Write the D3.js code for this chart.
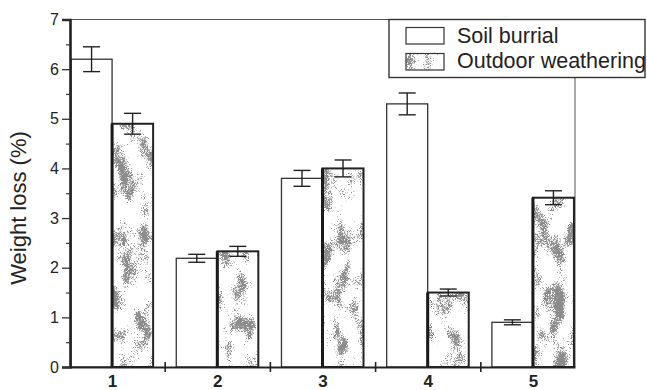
<!DOCTYPE html>
<html>
<head>
<meta charset="utf-8">
<script src="https://cdn.jsdelivr.net/npm/d3@7"></script>
<style>
  html, body { margin: 0; padding: 0; background: #fff; }
  svg { display: block; font-family: "Liberation Sans", Arial, sans-serif; }
</style>
</head>
<body>
<svg id="chart" width="647" height="390"></svg>
<script>
// Weight loss of the five samples under two degradation conditions
const categories = [1, 2, 3, 4, 5];
const seriesNames = ["Soil burrial", "Outdoor weathering"];
const soilBurial = [6.20, 2.19, 3.80, 5.30, 0.90];
const soilBurialErr = [0.25, 0.08, 0.16, 0.22, 0.05];
const outdoorWeathering = [4.90, 2.33, 4.00, 1.50, 3.41];
const outdoorWeatheringErr = [0.21, 0.10, 0.17, 0.07, 0.14];
const yTicks = [0, 1, 2, 3, 4, 5, 6, 7];
const yMinorTicks = [0.5, 1.5, 2.5, 3.5, 4.5, 5.5, 6.5];
const xBoundaryTicks = [1.5, 2.5, 3.5, 4.5];
const yTitle = "Weight loss (%)";

const svg = d3.select("#chart");
const plotLeft = 70, plotRight = 575, plotTop = 19.5, plotBottom = 367;

const x = d3.scaleLinear().domain([0.6, 5.4]).range([plotLeft, plotRight]);
const y = d3.scaleLinear().domain([0, 7]).range([plotBottom, plotTop]);
const barW = x(1.39) - x(1);

// grainy grey fill used for the outdoor-weathering bars
const defs = svg.append("defs");
function grainFilter(id, seed) {
  const f = defs.append("filter").attr("id", id)
    .attr("x", 0).attr("y", 0).attr("width", 1).attr("height", 1)
    .attr("color-interpolation-filters", "sRGB");
  f.append("feTurbulence").attr("type", "fractalNoise").attr("baseFrequency", 1.3)
    .attr("numOctaves", 1).attr("seed", seed).attr("result", "fineRaw");
  f.append("feColorMatrix").attr("in", "fineRaw").attr("type", "matrix")
    .attr("values", "1 0 0 0 0  1 0 0 0 0  1 0 0 0 0  0 0 0 0 1").attr("result", "fine");
  f.append("feTurbulence").attr("type", "fractalNoise").attr("baseFrequency", "0.06 0.035")
    .attr("numOctaves", 2).attr("seed", seed + 11).attr("result", "coarseRaw");
  f.append("feColorMatrix").attr("in", "coarseRaw").attr("type", "matrix")
    .attr("values", "1 0 0 0 0  1 0 0 0 0  1 0 0 0 0  0 0 0 0 1").attr("result", "coarse");
  f.append("feComposite").attr("in", "fine").attr("in2", "coarse").attr("operator", "arithmetic")
    .attr("k1", 0).attr("k2", 1).attr("k3", 1.5).attr("k4", -1.36).attr("result", "mix");
  f.append("feColorMatrix").attr("in", "mix").attr("type", "matrix")
    .attr("values", "0 0 0 0 0.55  0 0 0 0 0.55  0 0 0 0 0.55  7 0 0 0 0");
}
categories.forEach((c, i) => grainFilter("grain" + i, 3 + i * 5));
grainFilter("grainLegend", 41);

const g = svg.append("g");

// frame lines at top and right
g.append("line").attr("x1", plotLeft).attr("x2", plotRight).attr("y1", plotTop).attr("y2", plotTop)
  .attr("stroke", "#555").attr("stroke-width", 1);
g.append("line").attr("x1", plotRight).attr("x2", plotRight).attr("y1", plotTop).attr("y2", plotBottom)
  .attr("stroke", "#555").attr("stroke-width", 1);

// soil burial bars (left of each category)
g.selectAll("rect.soil").data(categories).join("rect").attr("class", "soil")
  .attr("x", (c) => x(c) - barW)
  .attr("y", (c, i) => y(soilBurial[i]))
  .attr("width", barW)
  .attr("height", (c, i) => y(0) - y(soilBurial[i]))
  .attr("fill", "#fff").attr("stroke", "#333").attr("stroke-width", 1.3);

// outdoor weathering bars (right of each category)
const ow = g.selectAll("g.outdoor").data(categories).join("g").attr("class", "outdoor");
ow.append("rect")
  .attr("x", (c) => x(c))
  .attr("y", (c, i) => y(outdoorWeathering[i]))
  .attr("width", barW)
  .attr("height", (c, i) => y(0) - y(outdoorWeathering[i]))
  .attr("fill", "#fff");
ow.append("rect")
  .attr("x", (c) => x(c))
  .attr("y", (c, i) => y(outdoorWeathering[i]))
  .attr("width", barW)
  .attr("height", (c, i) => y(0) - y(outdoorWeathering[i]))
  .attr("fill", "#fff")
  .attr("filter", (c, i) => `url(#grain${i})`);
ow.append("rect")
  .attr("x", (c) => x(c))
  .attr("y", (c, i) => y(outdoorWeathering[i]))
  .attr("width", barW)
  .attr("height", (c, i) => y(0) - y(outdoorWeathering[i]))
  .attr("fill", "none").attr("stroke", "#222").attr("stroke-width", 2);
// heavier shared edge between the two bars
ow.append("line")
  .attr("x1", (c) => x(c)).attr("x2", (c) => x(c))
  .attr("y1", (c, i) => y(outdoorWeathering[i]))
  .attr("y2", y(0))
  .attr("stroke", "#1a1a1a").attr("stroke-width", 3);

// error bars
function errorBars(values, errs, offset, cls) {
  const cap = 8.5;
  const eb = g.selectAll("g." + cls).data(categories).join("g").attr("class", cls)
    .attr("stroke", "#222").attr("stroke-width", 1.4).attr("fill", "none");
  eb.append("line")
    .attr("x1", (c) => x(c) + offset).attr("x2", (c) => x(c) + offset)
    .attr("y1", (c, i) => y(values[i] + errs[i])).attr("y2", (c, i) => y(values[i] - errs[i]));
  eb.append("line")
    .attr("x1", (c) => x(c) + offset - cap).attr("x2", (c) => x(c) + offset + cap)
    .attr("y1", (c, i) => y(values[i] + errs[i])).attr("y2", (c, i) => y(values[i] + errs[i]));
  eb.append("line")
    .attr("x1", (c) => x(c) + offset - cap).attr("x2", (c) => x(c) + offset + cap)
    .attr("y1", (c, i) => y(values[i] - errs[i])).attr("y2", (c, i) => y(values[i] - errs[i]));
}
errorBars(soilBurial, soilBurialErr, -barW / 2, "errSoil");
errorBars(outdoorWeathering, outdoorWeatheringErr, barW / 2, "errOut");

// y axis with major and minor ticks
const yAxis = g.append("g").attr("transform", `translate(${plotLeft},0)`)
  .call(d3.axisLeft(y).tickValues(yTicks).tickFormat(d3.format("d")).tickSize(8).tickPadding(3));
yAxis.select(".domain").attr("stroke", "#222").attr("stroke-width", 2.6);
yAxis.selectAll(".tick line").attr("stroke", "#333").attr("stroke-width", 1.3);
yAxis.selectAll(".tick text").attr("font-size", 16).attr("fill", "#222")
  .attr("font-family", "Liberation Sans, Arial, sans-serif");
const yMinor = g.append("g").attr("transform", `translate(${plotLeft},0)`)
  .call(d3.axisLeft(y).tickValues(yMinorTicks).tickFormat("").tickSize(4));
yMinor.select(".domain").remove();
yMinor.selectAll(".tick line").attr("stroke", "#333").attr("stroke-width", 1.2);

// x axis: category labels and boundary ticks
const xAxis = g.append("g").attr("transform", `translate(0,${plotBottom})`)
  .call(d3.axisBottom(x).tickValues(categories).tickFormat(d3.format("d")).tickSize(0).tickPadding(7.5));
xAxis.select(".domain").attr("stroke", "#222").attr("stroke-width", 2.2);
xAxis.selectAll(".tick text").attr("font-size", 17).attr("font-weight", "bold").attr("fill", "#222")
  .attr("font-family", "Liberation Sans, Arial, sans-serif");
const xBounds = g.append("g").attr("transform", `translate(0,${plotBottom - 5})`)
  .call(d3.axisBottom(x).tickValues(xBoundaryTicks).tickFormat("").tickSize(10));
xBounds.select(".domain").remove();
xBounds.selectAll(".tick line").attr("stroke", "#222").attr("stroke-width", 1.6);

// y title
g.append("text").attr("transform", `translate(26,208) rotate(-90)`)
  .attr("text-anchor", "middle").attr("font-size", 22).attr("fill", "#222")
  .text(yTitle);

// legend
const lg = g.append("g");
lg.append("rect").attr("x", 389).attr("y", 19.5).attr("width", 256).attr("height", 58)
  .attr("fill", "#fff").attr("stroke", "#333").attr("stroke-width", 1.4);
lg.append("rect").attr("x", 406).attr("y", 27.5).attr("width", 38).attr("height", 16.5)
  .attr("fill", "#fff").attr("stroke", "#333").attr("stroke-width", 1.2);
lg.append("rect").attr("x", 406).attr("y", 53.5).attr("width", 38).attr("height", 16.5)
  .attr("fill", "#fff");
lg.append("rect").attr("x", 406).attr("y", 53.5).attr("width", 38).attr("height", 16.5)
  .attr("fill", "#fff").attr("filter", "url(#grainLegend)");
lg.append("rect").attr("x", 406).attr("y", 53.5).attr("width", 38).attr("height", 16.5)
  .attr("fill", "none").attr("stroke", "#333").attr("stroke-width", 1.2);
lg.selectAll("text").data(seriesNames).join("text")
  .attr("x", 457).attr("y", (d, i) => 42.7 + i * 25.6)
  .attr("font-size", 21.5).attr("fill", "#222").text((d) => d);
</script>
</body>
</html>
